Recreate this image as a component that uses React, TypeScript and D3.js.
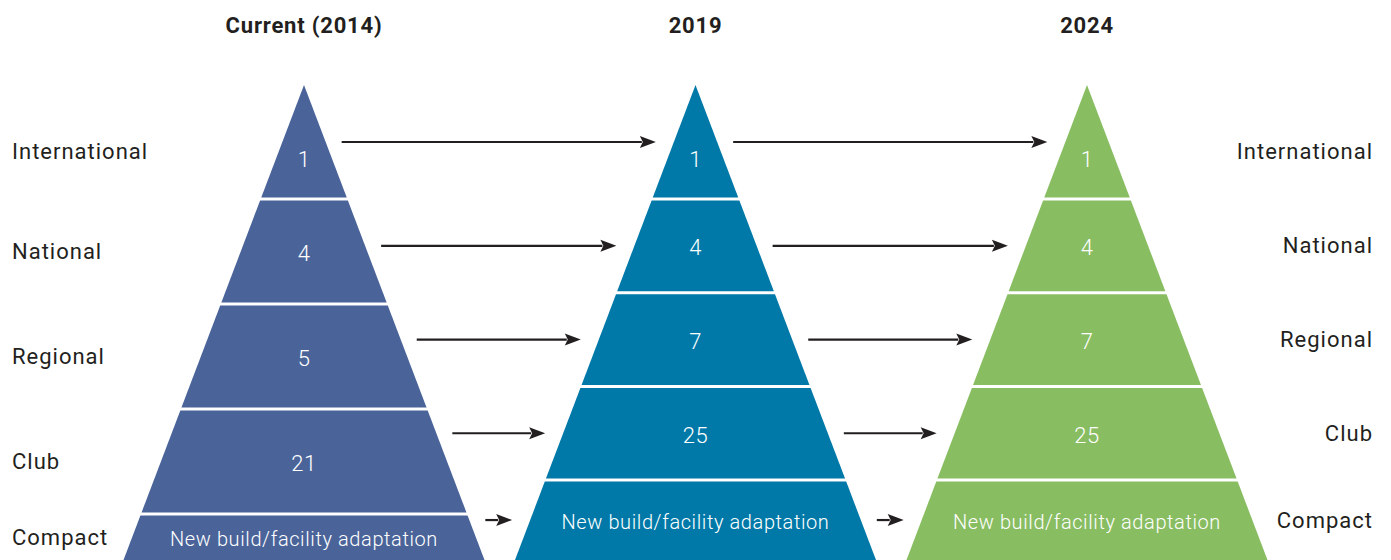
import React from 'react';
import * as d3 from 'd3';

const years = ['Current (2014)', '2019', '2024'];
const levels = ['International', 'National', 'Regional', 'Club', 'Compact'];
const counts2014 = ['1', '4', '5', '21', 'New build/facility adaptation'];
const counts2019 = ['1', '4', '7', '25', 'New build/facility adaptation'];
const counts2024 = ['1', '4', '7', '25', 'New build/facility adaptation'];
const counts = [counts2014, counts2019, counts2024];

const colors = ['#4a6499', '#0079a8', '#88bd62'];

const width = 1391;
const height = 560;
const apexY = 85;
const firstCut = 199;
const slope = 0.38;
const bandSteps = [105, 93.7, 93.7];
const gap = 1.5;
const textColor = '#231f20';
const font = 'Roboto, "Open Sans", sans-serif';

const xCenter = d3.scalePoint<string>().domain(years).range([304, 1087]);

// band boundaries for one pyramid: apex, then equal-height bands
function bounds(p: number) {
  const y = d3.scaleLinear().domain([0, levels.length - 1]).range([firstCut, firstCut + bandSteps[p] * (levels.length - 1)]);
  return [apexY, ...d3.range(levels.length).map(i => y(i))];
}

function half(y: number) {
  return slope * (y - apexY);
}

function bandMid(p: number, i: number, topFrac: number) {
  const b = bounds(p);
  if (i === 0) return apexY + topFrac * (b[1] - apexY);
  return (b[i] + Math.min(b[i + 1], height)) / 2;
}

function Pyramid({ p }: { p: number }) {
  const cx = xCenter(years[p]) as number;
  const b = bounds(p);
  return (
    <g>
      {levels.map((lv, i) => {
        const y0 = i === 0 ? apexY : b[i] + gap;
        const y1 = b[i + 1] - (i === levels.length - 1 ? 0 : gap);
        const pts: [number, number][] = [
          [cx - half(y0), y0],
          [cx + half(y0), y0],
          [cx + half(y1), y1],
          [cx - half(y1), y1],
        ];
        return <path key={lv} d={d3.line()(pts) + 'Z'} fill={colors[p]} />;
      })}
      {counts[p].map((c, i) => {
        const long = i === levels.length - 1;
        return (
          <text
            key={i}
            x={cx}
            y={bandMid(p, i, 0.64) + 2}
            textAnchor="middle"
            dominantBaseline="central"
            fill="#fff"
            fontSize={long ? 20 : 22}
            letterSpacing={long ? 0.6 : 0.5}
            fontWeight={300}
          >
            {c}
          </text>
        );
      })}
      <text
        x={cx}
        y={25}
        textAnchor="middle"
        dominantBaseline="central"
        fill={textColor}
        fontSize={22}
        letterSpacing={0.8}
        fontWeight={700}
      >
        {years[p]}
      </text>
    </g>
  );
}

function Arrow({ from, level }: { from: number; level: number }) {
  const y = bandMid(from + 1, level, 0.5);
  const x1 = (xCenter(years[from]) as number) + half(y) + 16;
  const x2 = (xCenter(years[from + 1]) as number) - half(y) - 18;
  const head = 16;
  const hw = 6;
  return (
    <g>
      <line x1={x1} x2={x2 - head + 2} y1={y} y2={y} stroke={textColor} strokeWidth={2.2} />
      <path d={`M${x2},${y}L${x2 - head},${y - hw}L${x2 - head + 3},${y}L${x2 - head},${y + hw}Z`} fill={textColor} />
    </g>
  );
}

export default function App() {
  return (
    <svg
      width={width}
      height={height}
      viewBox={`0 0 ${width} ${height}`}
      style={{ position: 'absolute', left: 0, top: 0, display: 'block', background: '#fff' }}
      fontFamily={font}
    >
      {years.map((y, p) => (
        <Pyramid key={y} p={p} />
      ))}
      {[0, 1].map(from => levels.map((lv, i) => <Arrow key={`${from}-${lv}`} from={from} level={i} />))}
      {levels.map((lv, i) => (
        <text
          key={'l' + lv}
          x={12}
          y={bandMid(0, i, 0.58)}
          dominantBaseline="central"
          fill={textColor}
          fontSize={22}
          letterSpacing={1}
        >
          {lv}
        </text>
      ))}
      {levels.map((lv, i) => (
        <text
          key={'r' + lv}
          x={1373}
          y={bandMid(2, i, 0.58)}
          textAnchor="end"
          dominantBaseline="central"
          fill={textColor}
          fontSize={22}
          letterSpacing={1}
        >
          {lv}
        </text>
      ))}
    </svg>
  );
}
